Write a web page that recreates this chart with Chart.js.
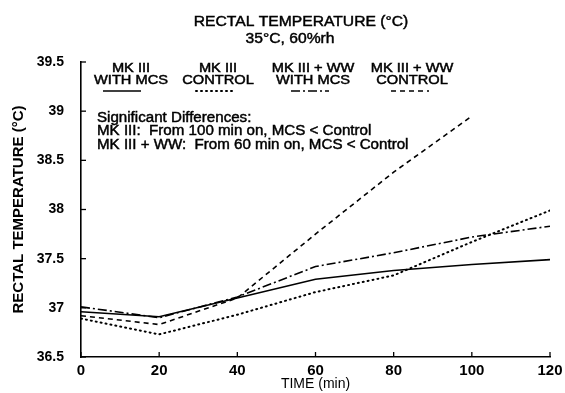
<!DOCTYPE html>
<html>
<head>
<meta charset="utf-8">
<script src="https://cdn.jsdelivr.net/npm/chart.js@4"></script>
<style>
html,body{margin:0;padding:0;background:#fff;}
#wrap{width:565px;height:393px;}
</style>
</head>
<body>
<div id="wrap"><canvas id="c" width="565" height="393"></canvas></div>
<script>
const times = [0, 20, 40, 60, 80, 100, 120];
const mk3WithMcs = [36.96, 36.91, 37.10, 37.29, 37.38, 37.44, 37.49];
const mk3Control = [36.89, 36.73, 36.93, 37.16, 37.33, 37.67, 37.99];
const wwWithMcs = [37.01, 36.90, 37.11, 37.42, 37.56, 37.72, 37.83];
const wwControl = [36.92, 36.83, 37.10, 37.75, 38.38, 38.95, null];
const xTicks = [0, 20, 40, 60, 80, 100, 120];
const yTicks = [36.5, 37, 37.5, 38, 38.5, 39, 39.5];
const titleLines = ['RECTAL TEMPERATURE (°C)', '35°C, 60%rh'];
const legendLines = [
  ['MK III', 'WITH MCS'],
  ['MK III', 'CONTROL'],
  ['MK III + WW', 'WITH MCS'],
  ['MK III + WW', 'CONTROL']
];
const noteLines = [
  'Significant Differences:',
  'MK III:  From 100 min on, MCS < Control',
  'MK III + WW:  From 60 min on, MCS < Control'
];
const FONT = '"Liberation Sans", Arial, sans-serif';

function pts(arr){ return times.map((t,i)=>({x:t, y:arr[i]})); }

const styles = [
  {dash: [], width: 1.6, cap: 'butt'},
  {dash: [1, 4], width: 2, cap: 'round'},
  {dash: [9, 3, 2, 3], width: 1.6, cap: 'butt'},
  {dash: [5, 4], width: 1.6, cap: 'butt'}
];
const seriesData = [mk3WithMcs, mk3Control, wwWithMcs, wwControl];

const datasets = seriesData.map((d, i) => ({
  label: legendLines[i].join(' '),
  data: pts(d),
  borderColor: '#000',
  borderWidth: styles[i].width,
  borderDash: styles[i].dash,
  borderCapStyle: styles[i].cap,
  pointRadius: 0,
  fill: false,
  tension: 0,
  spanGaps: false
}));

function stretchedText(ctx, text, x, y, font, sx, align) {
  ctx.save();
  ctx.font = font;
  ctx.textAlign = align;
  ctx.textBaseline = 'middle';
  ctx.translate(x, y);
  ctx.scale(sx, 1);
  ctx.lineWidth = 0.45;
  ctx.strokeStyle = '#000';
  ctx.fillText(text, 0, 0);
  ctx.strokeText(text, 0, 0);
  ctx.restore();
}

const decor = {
  id: 'decor',
  afterDraw(chart) {
    const ctx = chart.ctx;
    const xs = chart.scales.x, ys = chart.scales.y;
    const ca = chart.chartArea;
    ctx.save();
    ctx.strokeStyle = '#000';
    ctx.fillStyle = '#000';
    ctx.lineWidth = 1.3;
    // inward tick marks
    yTicks.forEach(v => {
      const y = ys.getPixelForValue(v);
      ctx.beginPath(); ctx.moveTo(ca.left, y); ctx.lineTo(ca.left + 5, y); ctx.stroke();
    });
    xTicks.forEach(v => {
      const x = xs.getPixelForValue(v);
      ctx.beginPath(); ctx.moveTo(x, ca.bottom); ctx.lineTo(x, ca.bottom - 5); ctx.stroke();
    });
    // title
    stretchedText(ctx, titleLines[0], 301, 22, '14.5px ' + FONT, 1.08, 'center');
    stretchedText(ctx, titleLines[1], 290, 39, '14.5px ' + FONT, 1.08, 'center');
    // legend
    const centers = [131, 218, 313, 412];
    const sampleCenters = [122, 215, 310, 410];
    legendLines.forEach((ls, i) => {
      stretchedText(ctx, ls[0], centers[i], 69, '12px ' + FONT, 1.22, 'center');
      stretchedText(ctx, ls[1], centers[i], 80.5, '12px ' + FONT, 1.22, 'center');
      const st = styles[i];
      ctx.save();
      ctx.setLineDash(st.dash);
      ctx.lineCap = st.cap;
      ctx.lineWidth = st.width;
      ctx.beginPath();
      ctx.moveTo(sampleCenters[i] - 19, 91);
      ctx.lineTo(sampleCenters[i] + 19, 91);
      ctx.stroke();
      ctx.restore();
    });
    // notes
    noteLines.forEach((t, i) => stretchedText(ctx, t, 97, 118 + i * 13.5, '14px ' + FONT, 1.08, 'left'));
    ctx.restore();
  }
};

new Chart(document.getElementById('c'), {
  type: 'line',
  data: { datasets },
  plugins: [decor],
  options: {
    responsive: false,
    animation: false,
    events: [],
    layout: { padding: { top: 62, right: 15, bottom: 0, left: 0 } },
    plugins: {
      legend: { display: false },
      tooltip: { enabled: false },
      title: { display: false }
    },
    scales: {
      x: {
        type: 'linear',
        min: 0, max: 120,
        afterBuildTicks: s => { s.ticks = xTicks.map(v => ({value: v})); },
        afterFit: s => { s.height = 36; },
        grid: { display: false },
        border: { display: true, color: '#000', width: 1.6 },
        ticks: { color: '#000', padding: -3, callback: v => String(v), font: { family: FONT, size: 15, weight: 'bold' } },
        title: { display: true, text: 'TIME (min)', color: '#000', padding: { top: -8, bottom: 0 }, font: { family: FONT, size: 14, weight: 'normal' } }
      },
      y: {
        type: 'linear',
        min: 36.5, max: 39.5,
        afterBuildTicks: s => { s.ticks = yTicks.map(v => ({value: v})); },
        afterFit: s => { s.width = 81; },
        grid: { display: false },
        border: { display: true, color: '#000', width: 1.6 },
        ticks: { color: '#000', padding: 9, callback: v => String(v), font: { family: FONT, size: 14, weight: 'bold' } },
        title: { display: true, text: 'RECTAL TEMPERATURE (°C)', color: '#000', padding: { top: 10, bottom: 0 }, font: { family: FONT, size: 15, weight: 'bold' } }
      }
    }
  }
});
</script>
</body>
</html>
